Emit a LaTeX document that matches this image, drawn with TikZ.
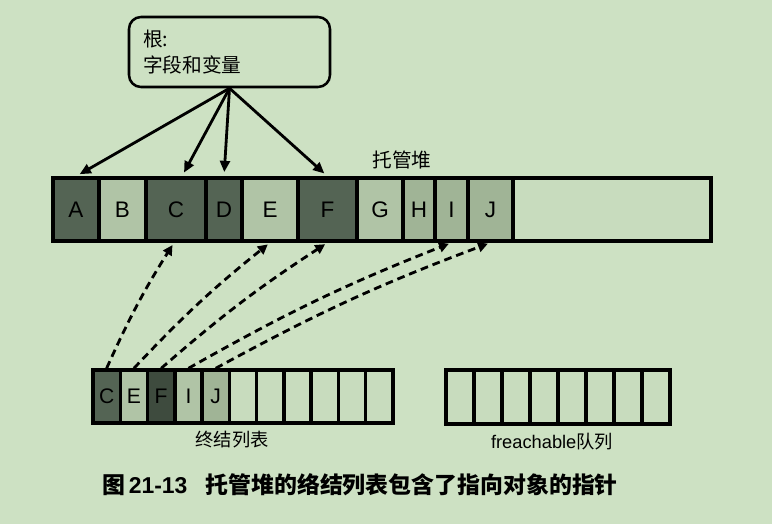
\documentclass[tikz,border=0pt]{standalone}
\usepackage{fontspec}
\setmainfont{Liberation Sans}
\newfontfamily\cjk{Noto Sans CJK SC}
\usetikzlibrary{arrows.meta}
\definecolor{CBG}{RGB}{205,225,195}
\definecolor{CDK}{RGB}{84,100,84}
\definecolor{CDKK}{RGB}{62,75,62}
\definecolor{CLT}{RGB}{176,196,166}
\definecolor{CMD}{RGB}{160,180,150}
\definecolor{CEM}{RGB}{200,220,190}
\tikzset{
  cell/.style={draw=black,line width=2.4pt,inner sep=0pt,minimum height=1.5750cm,font=\fontsize{16}{18}\selectfont},
  fcell/.style={draw=black,line width=2.4pt,inner sep=0pt,minimum width=0.6818cm,minimum height=1.3250cm,font=\fontsize{15}{17}\selectfont},
  rcell/.style={draw=black,line width=2.4pt,inner sep=0pt,minimum width=0.7000cm,minimum height=1.3500cm,fill=CEM},
  rootarr/.style={-{Triangle[length=8pt,width=7pt]},line width=2pt,shorten >=3pt},
  finarr/.style={-{Triangle[length=7pt,width=7pt]},line width=2pt,dash pattern=on 5.5pt off 3.5pt,bend left=4,shorten >=2pt},
}

\begin{document}
\begin{tikzpicture}
  % — background
  \fill[CBG] (0.0000cm,0.0000cm) rectangle (19.3000cm,13.1000cm);
  % — root box
  \node[draw=black,line width=1.8pt,rounded corners=0.3cm,minimum width=5.025cm,minimum height=1.75cm,
    text width=4.325cm,inner xsep=0.35cm,align=left,font=\cjk\fontsize{14}{18}\selectfont] (root) at (5.7375cm,11.8000cm) {根:\\字段和变量};
  % — managed heap
  \node[cell,fill=CDK,minimum width=1.1500cm] (hA) at (1.9000cm,7.8625cm) {A};
  \node[cell,fill=CLT,minimum width=1.1750cm] (hB) at (3.0625cm,7.8625cm) {B};
  \node[cell,fill=CDK,minimum width=1.5000cm] (hC) at (4.4000cm,7.8625cm) {C};
  \node[cell,fill=CDK,minimum width=0.9000cm] (hD) at (5.6000cm,7.8625cm) {D};
  \node[cell,fill=CLT,minimum width=1.4000cm] (hE) at (6.7500cm,7.8625cm) {E};
  \node[cell,fill=CDK,minimum width=1.4750cm] (hF) at (8.1875cm,7.8625cm) {F};
  \node[cell,fill=CLT,minimum width=1.1500cm] (hG) at (9.5000cm,7.8625cm) {G};
  \node[cell,fill=CMD,minimum width=0.8000cm] (hH) at (10.4750cm,7.8625cm) {H};
  \node[cell,fill=CMD,minimum width=0.8250cm] (hI) at (11.2875cm,7.8625cm) {I};
  \node[cell,fill=CMD,minimum width=1.1250cm] (hJ) at (12.2625cm,7.8625cm) {J};
  \node[cell,fill=CEM,minimum width=4.9500cm] (hfree) at (15.3000cm,7.8625cm) {};
  \node[font=\cjk\fontsize{14}{16}\selectfont] (heaplbl) at (10.0500cm,9.1000cm) {托管堆};
  % — finalization list
  \node[fcell,fill=CDK] (f1) at (2.6659cm,3.1875cm) {C};
  \node[fcell,fill=CLT] (f2) at (3.3477cm,3.1875cm) {E};
  \node[fcell,fill=CDKK] (f3) at (4.0295cm,3.1875cm) {F};
  \node[fcell,fill=CLT] (f4) at (4.7114cm,3.1875cm) {I};
  \node[fcell,fill=CMD] (f5) at (5.3932cm,3.1875cm) {J};
  \foreach \i in {6,...,11}
    \node[fcell,fill=CEM] (f\i) at ({2.6659cm+(\i-1)*0.6818cm},3.1875cm) {};
  \node[font=\cjk\fontsize{13}{15}\selectfont] (finlbl) at (5.8000cm,2.1000cm) {终结列表};
  % — freachable queue
  \foreach \i in {1,...,8}
    \node[rcell] (r\i) at ({11.5000cm+(\i-1)*0.7000cm},3.1750cm) {};
  \node[font=\fontsize{13}{15}\selectfont] (frelbl) at (13.8000cm,2.0500cm) {freachable{\cjk 队列}};
  % — roots to heap
  \draw[rootarr] (root.south) -- (hA.north);
  \draw[rootarr] (root.south) -- ([xshift=0.15cm]hC.north);
  \draw[rootarr] (root.south) -- (hD.north);
  \draw[rootarr] (root.south) -- (hF.north);
  % — finalization list to heap
  \draw[finarr] (f1.north) to ([xshift=-0.05cm]hC.south);
  \draw[finarr] (f2.north) to (hE.south);
  \draw[finarr] (f3.north) to (hF.south);
  \draw[finarr] (f4.north) to (hI.south);
  \draw[finarr] (f5.north) to (hJ.south);
  % — caption
  \node[font=\cjk\bfseries\fontsize{16.3}{18}\selectfont] (caption) at (9.0000cm,0.9750cm)
    {图\,\textrm{21-13}\hspace{0.45cm}托管堆的络结列表包含了指向对象的指针};
\end{tikzpicture}
\end{document}
